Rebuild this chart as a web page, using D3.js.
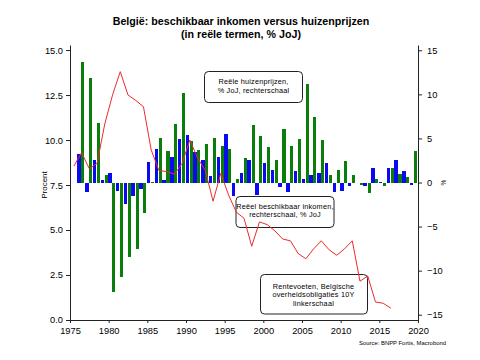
<!DOCTYPE html>
<html>
<head>
<meta charset="utf-8">
<script src="https://cdn.jsdelivr.net/npm/d3@7"></script>
<style>
  html, body { margin: 0; padding: 0; background: #fff; }
  svg { display: block; font-family: "Liberation Sans", Arial, sans-serif; }
</style>
</head>
<body>
<svg id="chart" width="480" height="360"></svg>
<script>
// ---- Data ----
const barYears = d3.range(1976, 2020);
const incomeGrowth = [3.2, -1.05, 2.5, 0.25, 1.1, -1.0, -2.45, -1.5, -0.7, 2.35,
  3.75, 0.3, 2.9, 4.9, 5.4, 3.5, 2.5, 0.75, 2.9, 5.5,
  -1.55, 1.1, 2.6, -1.45, 2.2, 1.45, -0.55, -1.1, 1.3, 0.4,
  0.8, 1.1, 2.2, -1.05, -1.0, -0.4, -0.1, -0.4, 1.6, 0.05,
  1.7, 2.6, 1.3, -0.25];
const housePriceGrowth = [13.7, 11.85, 6.75, 0.8, -12.4, -10.75, -8.5, -7.6, -3.5, 0.1,
  5.1, 3.6, 6.6, 10.1, 4.7, 3.7, 4.4, 5.0, 4.1, 3.85,
  0.45, 2.8, 6.55, 5.25, 4.0, 2.5, 6.1, 4.1, 4.9, 11.2,
  7.4, 4.8, 0.8, 1.4, 2.4, 0.8, -0.3, -1.2, 0.35, -0.4,
  1.7, 0.95, 0.65, 3.55];
const rateYears = d3.range(1975, 2017);
const bondRate10Y = [8.55, 9.3, 8.4, 8.7, 10.9, 12.5, 13.8, 12.5, 12.2, 11.85,
  9.45, 8.3, 8.25, 8.1, 8.7, 10.0, 9.0, 8.3, 6.6, 8.15,
  6.95, 6.0, 5.65, 4.1, 5.45, 5.3, 4.95, 4.5, 4.4, 3.7,
  3.4, 3.95, 4.4, 3.9, 3.6, 3.95, 4.4, 2.15, 2.45, 1.0,
  0.93, 0.65];
const xTicks = [1975, 1980, 1985, 1990, 1995, 2000, 2005, 2010, 2015, 2020];
const leftTicks = [0, 2.5, 5, 7.5, 10, 12.5, 15];
const rightTicks = [-15, -10, -5, 0, 5, 10, 15];
const titleLines = ["België: beschikbaar inkomen versus huizenprijzen", "(in reële termen, % JoJ)"];
const noteHouse = ["Reële huizenprijzen,", "% JoJ, rechterschaal"];
const noteIncome = ["Reëel beschikbaar inkomen,", "rechterschaal, % JoJ"];
const noteRate = ["Rentevoeten, Belgische", "overheidsobligaties 10Y", "linkerschaal"];
const sourceText = "Source: BNPP Fortis, Macrobond";

// ---- Layout ----
const svg = d3.select("#chart");
const x = d3.scaleLinear().domain([1975, 2020]).range([70, 418]);
const yL = d3.scaleLinear().domain([0, 15.28]).range([320, 45]);
const yR = d3.scaleLinear().domain([-15.6, 15.6]).range([320, 45]);

const GREEN = "#0b7d0b", BLUE = "#0a0af2", RED = "#ec2b2b";

// Title
svg.append("g").selectAll("text").data(titleLines).join("text")
  .attr("x", 241).attr("y", (d, i) => 25 + i * 12.5)
  .attr("text-anchor", "middle").attr("font-size", "10.7px").attr("font-weight", "bold")
  .attr("fill", "#000").text(d => d);

// Bars
const barData = barYears.map((yr, i) => ({ yr, inc: incomeGrowth[i], hp: housePriceGrowth[i] }));
const gb = svg.append("g").attr("shape-rendering", "crispEdges");
gb.selectAll("rect.inc").data(barData).join("rect").attr("class", "inc")
  .attr("x", d => x(d.yr - 0.05)).attr("width", d => x(d.yr + 0.4) - x(d.yr - 0.05))
  .attr("y", d => yR(Math.max(0, d.inc))).attr("height", d => Math.abs(yR(d.inc) - yR(0)))
  .attr("fill", BLUE);
gb.selectAll("rect.hp").data(barData).join("rect").attr("class", "hp")
  .attr("x", d => x(d.yr + 0.47)).attr("width", d => x(d.yr + 0.87) - x(d.yr + 0.47))
  .attr("y", d => yR(Math.max(0, d.hp))).attr("height", d => Math.abs(yR(d.hp) - yR(0)))
  .attr("fill", GREEN);

// Annotation boxes
function note(lines, bx, by, bw, bh, firstBase, cx) {
  const g = svg.append("g");
  g.append("rect").attr("x", bx).attr("y", by).attr("width", bw).attr("height", bh)
    .attr("rx", 4).attr("ry", 4).attr("fill", "none").attr("stroke", "#222").attr("stroke-width", 1);
  g.selectAll("text").data(lines).join("text")
    .attr("x", cx).attr("y", (d, i) => firstBase + i * 8.6)
    .attr("text-anchor", "middle").attr("font-size", "7.3px").attr("letter-spacing", "0.2px")
    .attr("fill", "#000").text(d => d);
}
note(noteHouse, 204.5, 71.5, 98, 31, 84.3, 253.5);
note(noteIncome, 236, 196.5, 98, 31, 208.8, 285);
note(noteRate, 260.5, 274.5, 107, 39.5, 288.6, 313.5);

// Red line (left axis)
const rateData = rateYears.map((yr, i) => ({ yr, v: bondRate10Y[i] }));
svg.append("path").datum(rateData)
  .attr("fill", "none").attr("stroke", RED).attr("stroke-width", 1)
  .attr("d", d3.line().x(d => x(d.yr + 0.5)).y(d => yL(d.v)));

// Axes
const axL = svg.append("g").attr("transform", "translate(70,0)")
  .call(d3.axisLeft(yL).tickValues(leftTicks).tickFormat(d3.format(".1f"))
    .tickSize(4).tickPadding(3).tickSizeOuter(0));
const axR = svg.append("g").attr("transform", "translate(418,0)")
  .call(d3.axisRight(yR).tickValues(rightTicks).tickFormat(d3.format("d"))
    .tickSize(4).tickPadding(5).tickSizeOuter(0));
const axB = svg.append("g").attr("transform", "translate(0,320)")
  .call(d3.axisBottom(x).tickValues(xTicks).tickFormat(d3.format("d"))
    .tickSize(3).tickPadding(4).tickSizeOuter(0));
[axL, axR, axB].forEach(a => {
  a.selectAll("text").attr("font-size", "9.3px").attr("fill", "#000")
    .attr("font-family", "'Liberation Sans', Arial, sans-serif");
  a.selectAll("path,line").attr("stroke", "#222");
});

// Axis titles
svg.append("text").attr("transform", "translate(47,185) rotate(-90)")
  .attr("text-anchor", "middle").attr("font-size", "8px").attr("fill", "#000").text("Procent");
svg.append("text").attr("transform", "translate(446,182.5) rotate(-90)")
  .attr("text-anchor", "middle").attr("font-size", "6.5px").attr("fill", "#000").text("%");

// Source
svg.append("text").attr("x", 446).attr("y", 344.5).attr("text-anchor", "end")
  .attr("font-size", "5.9px").attr("fill", "#000").text(sourceText);
</script>
</body>
</html>
